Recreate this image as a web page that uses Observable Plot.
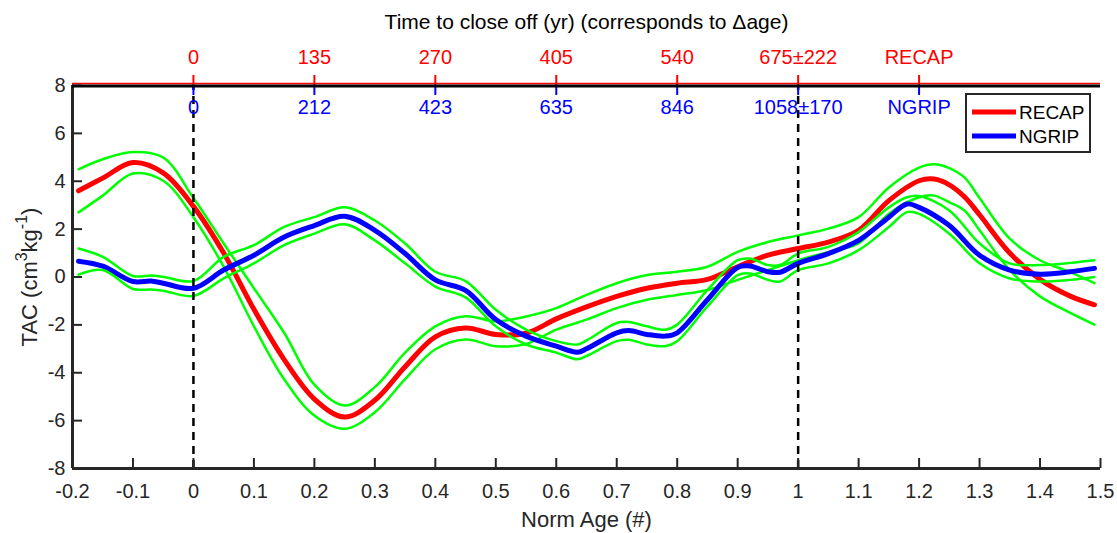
<!DOCTYPE html>
<html><head><meta charset="utf-8">
<script src="https://cdn.jsdelivr.net/npm/d3@7"></script>
<script src="https://cdn.jsdelivr.net/npm/@observablehq/plot@0.6"></script>
<style>
body{margin:0;background:#fff;}
#chart svg{display:block;}
</style></head><body><div id="chart"></div>
<script>
// ---- data ----
const recapX     = [-0.19,-0.15,-0.1,-0.05,0,0.05,0.1,0.15,0.2,0.25,0.3,0.35,0.4,0.45,0.5,0.55,0.6,0.65,0.7,0.75,0.8,0.85,0.9,0.95,1.0,1.05,1.1,1.15,1.2,1.225,1.25,1.275,1.3,1.35,1.4,1.45,1.49];
const recapMid   = [3.6,4.13,4.78,4.35,2.95,1.0,-1.35,-3.45,-5.1,-5.85,-5.15,-3.75,-2.5,-2.13,-2.4,-2.35,-1.75,-1.25,-0.81,-0.47,-0.26,-0.1,0.43,0.91,1.19,1.46,1.95,3.19,4.02,4.09,3.85,3.35,2.6,1.0,-0.1,-0.8,-1.16];
const recapUpper = [4.5,4.92,5.22,4.99,3.3,1.4,-0.47,-2.33,-4.5,-5.37,-4.6,-3.16,-2.06,-1.64,-1.85,-1.65,-1.3,-0.75,-0.26,0.08,0.22,0.43,1.05,1.46,1.74,2.02,2.5,3.74,4.57,4.71,4.55,4.16,3.3,1.6,0.7,0.2,-0.26];
const recapLower = [2.7,3.4,4.32,4.02,2.5,0.43,-2.06,-4.27,-5.79,-6.34,-5.65,-4.27,-3.02,-2.61,-2.89,-2.8,-2.2,-1.78,-1.3,-0.95,-0.75,-0.54,-0.12,0.29,0.7,1.05,1.4,2.64,3.33,3.4,3.12,2.78,1.95,0.29,-0.81,-1.5,-1.99];

const ngripX     = [-0.19,-0.15,-0.1,-0.07,-0.05,0,0.05,0.1,0.15,0.2,0.25,0.3,0.35,0.4,0.45,0.5,0.55,0.6,0.635,0.65,0.7,0.72,0.75,0.78,0.8,0.85,0.9,0.92,0.95,0.97,1.0,1.05,1.1,1.15,1.18,1.2,1.25,1.3,1.35,1.4,1.45,1.49];
const ngripMid   = [0.66,0.45,-0.19,-0.17,-0.26,-0.47,0.29,0.91,1.67,2.15,2.54,1.95,0.98,-0.12,-0.56,-1.78,-2.47,-2.89,-3.14,-3.0,-2.33,-2.24,-2.4,-2.47,-2.33,-0.95,0.4,0.46,0.22,0.2,0.57,0.98,1.53,2.5,3.05,2.91,2.15,0.91,0.29,0.12,0.22,0.36];
const ngripUpper = [1.19,0.84,0.04,0.06,0.01,-0.17,0.84,1.33,2.09,2.5,2.91,2.36,1.4,0.22,-0.17,-1.37,-2.2,-2.68,-2.82,-2.65,-1.92,-1.88,-2.06,-2.2,-1.99,-0.54,0.7,0.77,0.5,0.5,0.98,1.26,1.88,2.91,3.33,3.38,2.78,1.4,0.57,0.5,0.59,0.7];
const ngripLower = [0.1,0.29,-0.5,-0.52,-0.57,-0.79,-0.06,0.57,1.33,1.81,2.2,1.53,0.57,-0.4,-0.85,-2.06,-2.82,-3.16,-3.44,-3.3,-2.68,-2.62,-2.82,-2.89,-2.68,-1.23,0.08,0.15,-0.12,-0.19,0.29,0.57,1.12,2.09,2.71,2.64,1.81,0.57,-0.06,-0.19,-0.12,0.0];

const xTicks = [-0.2,-0.1,0,0.1,0.2,0.3,0.4,0.5,0.6,0.7,0.8,0.9,1,1.1,1.2,1.3,1.4,1.5];
const yTicks = [-8,-6,-4,-2,0,2,4,6,8];
const topPos = [0,0.2,0.4,0.6,0.8,1.0,1.2];
const recapTopLabels = ["0","135","270","405","540","675\u00b1222","RECAP"];
const ngripTopLabels = ["0","212","423","635","846","1058\u00b1170","NGRIP"];
const dashX = [0,1];
const seriesNames = ["RECAP","NGRIP"];
const seriesColors = ["#ff0000","#0000ff"];
const errColor = "#00ff00";

const recap = recapX.map((x,i)=>({x, mid: recapMid[i], up: recapUpper[i], lo: recapLower[i]}));
const ngrip = ngripX.map((x,i)=>({x, mid: ngripMid[i], up: ngripUpper[i], lo: ngripLower[i]}));

const axisCol = "#262626";
const curve = "catmull-rom";
const FS = 20;   // tick labels
const LS = 22;   // axis labels

const chart = Plot.plot({
  width: 1117, height: 533,
  marginLeft: 72, marginRight: 17, marginTop: 85, marginBottom: 65,
  style: {fontFamily: "'Liberation Sans', Arial, sans-serif", fontSize: FS + "px", color: axisCol, background: "#fff"},
  x: {domain: [-0.2, 1.5], axis: null},
  y: {domain: [-8, 8], axis: null},
  marks: [
    // RECAP
    Plot.line(recap, {x: "x", y: "mid", stroke: seriesColors[0], strokeWidth: 5, curve}),
    Plot.line(recap, {x: "x", y: "up", stroke: errColor, strokeWidth: 2.5, curve}),
    Plot.line(recap, {x: "x", y: "lo", stroke: errColor, strokeWidth: 2.5, curve}),
    // NGRIP
    Plot.line(ngrip, {x: "x", y: "mid", stroke: seriesColors[1], strokeWidth: 5, curve}),
    Plot.line(ngrip, {x: "x", y: "up", stroke: errColor, strokeWidth: 2.5, curve}),
    Plot.line(ngrip, {x: "x", y: "lo", stroke: errColor, strokeWidth: 2.5, curve}),
    // dashed markers
    Plot.ruleX(dashX, {x: d => d, y1: () => -8, y2: () => 8, stroke: "#000", strokeWidth: 2.5, strokeDasharray: "8,6"}),
    // bottom axis
    Plot.ruleX(xTicks, {x: d => d, y1: () => -8, y2: () => -8, insetTop: -10, stroke: axisCol, strokeWidth: 2}),
    Plot.text(xTicks, {x: d => d, y: () => -8, dy: 23, text: d => String(d), fill: axisCol, fontSize: FS}),
    Plot.ruleY([-8], {stroke: axisCol, strokeWidth: 3}),
    Plot.text(["Norm Age (#)"], {frameAnchor: "bottom", lineAnchor: "middle", dy: 51, fill: axisCol, fontSize: LS}),
    // left axis
    Plot.ruleY(yTicks, {y: d => d, x1: () => -0.2, x2: () => -0.2, insetRight: -10, stroke: axisCol, strokeWidth: 2}),
    Plot.text(yTicks, {x: () => -0.2, y: d => d, dx: -7, textAnchor: "end", text: d => String(d), fill: axisCol, fontSize: FS}),
    Plot.ruleX([-0.2], {stroke: axisCol, strokeWidth: 3}),
    // top axes
    Plot.ruleX(topPos, {x: d => d, y1: () => 8, y2: () => 8, insetTop: -10, stroke: "#ff0000", strokeWidth: 2}),
    Plot.ruleX(topPos, {x: d => d, y1: () => 8, y2: () => 8, insetBottom: -10, stroke: "#0000ff", strokeWidth: 2}),
    Plot.ruleY([8], {stroke: "#ff0000", strokeWidth: 1.5, dy: -2}),
    Plot.ruleY([8], {stroke: "#000", strokeWidth: 3, dy: 0.5}),
    Plot.text(recapTopLabels, {x: (d, i) => topPos[i], y: () => 8, dy: -28, text: d => d, fill: "#ff0000", fontSize: FS}),
    Plot.text(ngripTopLabels, {x: (d, i) => topPos[i], y: () => 8, dy: 22, text: d => d, fill: "#0000ff", fontSize: FS}),
    Plot.text(["Time to close off (yr) (corresponds to \u0394age)"], {frameAnchor: "top", lineAnchor: "middle", dy: -63, fill: "#000", fontSize: 21})
  ]
});
document.getElementById("chart").appendChild(chart);

// y-axis label with superscripts
const svg = d3.select(chart);
const yl = svg.append("text")
  .attr("transform", "translate(31,277) rotate(-90)")
  .attr("text-anchor", "middle")
  .attr("dominant-baseline", "middle")
  .attr("fill", axisCol)
  .style("font-size", LS + "px");
yl.append("tspan").text("TAC (cm");
yl.append("tspan").attr("dy", -8).style("font-size", "16px").text("3");
yl.append("tspan").attr("dy", 8).text("kg");
yl.append("tspan").attr("dy", -8).style("font-size", "16px").text("-1");
yl.append("tspan").attr("dy", 8).text(")");

// legend
const lg = svg.append("g").attr("transform", "translate(966,94)");
lg.append("rect").attr("width", 124).attr("height", 58).attr("fill", "#fff").attr("stroke", axisCol).attr("stroke-width", 2);
seriesNames.forEach((name, i) => {
  const y = 18 + i * 24;
  lg.append("line").attr("x1", 6).attr("x2", 50).attr("y1", y).attr("y2", y)
    .attr("stroke", seriesColors[i]).attr("stroke-width", 5);
  lg.append("text").attr("x", 53).attr("y", y).attr("dy", "0.35em")
    .attr("text-anchor", "start")
    .attr("fill", "#000").style("font-size", "19px").text(name);
});
</script>
</body></html>
